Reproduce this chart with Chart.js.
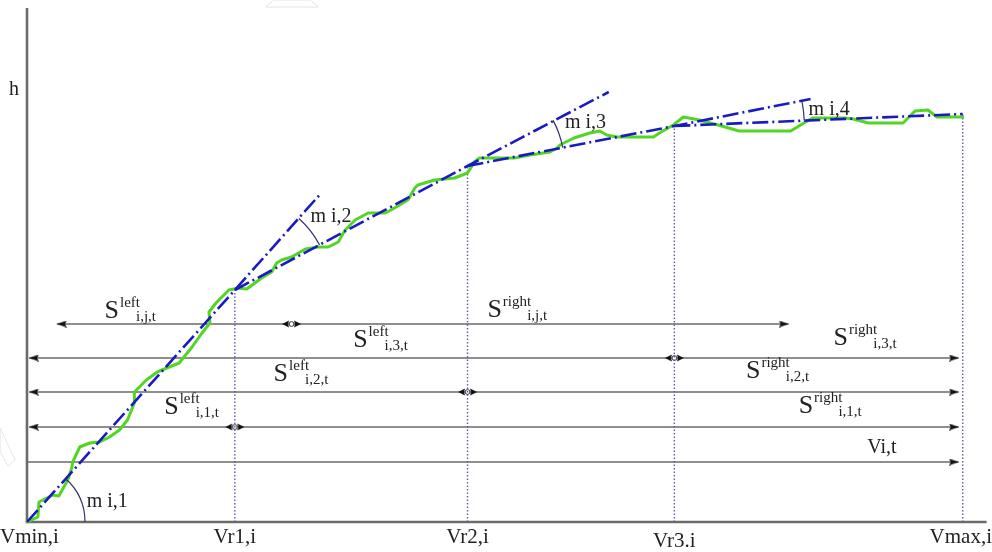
<!DOCTYPE html>
<html>
<head>
<meta charset="utf-8">
<script src="https://cdn.jsdelivr.net/npm/chart.js@4.4.1/dist/chart.umd.min.js"></script>
<style>
  html, body { margin: 0; padding: 0; background: #fff; }
  canvas { display: block; }
</style>
</head>
<body>
<canvas id="c" width="992" height="552"></canvas>
<script>
// Observed height trace h(V)
const traceV = [0, 11, 12, 26, 32, 41, 45, 46, 53, 63, 73, 83, 93, 101, 108, 108, 120, 131, 143, 153,
  166, 176, 184, 183, 190, 203, 213, 221, 236, 246, 251, 256, 266, 280, 293, 303, 313, 320, 330, 343,
  360, 366, 383, 390, 393, 410, 430, 443, 450, 455, 473, 490, 506, 526, 533, 536, 550, 566, 576, 583,
  593, 630, 636, 650, 660, 676, 695, 716, 768, 778, 790, 823, 831, 846, 881, 893, 906, 915, 941];
const traceH = [0, 5, 20, 27, 26, 42, 54, 60, 75, 79, 80, 85, 92, 102, 119, 130, 142, 150, 155, 159,
  175, 189, 199, 210, 219, 232, 234, 233, 244, 250, 259, 262, 265, 273, 275, 275, 280, 292, 302, 309,
  309, 312, 322, 334, 337, 342, 344, 349, 360, 364, 364, 364, 367, 370, 374, 377, 384, 389, 391, 387,
  385, 385, 389, 397, 405, 402, 397, 391, 391, 397, 404, 404, 403, 399, 399, 411, 412, 405, 405];

// Breakpoints of the piecewise linear fit
const knotV = [0, 209, 443, 651, 941];
const knotH = [0, 232, 356, 396, 408];
// Far end of each segment's tangent, drawn past the next breakpoint
const tangentV = [295, 585, 788];
const tangentH = [328, 430, 423];

const knotLabels = ['Vmin,i', 'Vr1,i', 'Vr2,i', 'Vr3.i', 'Vmax,i'];
const slopeLabels = ['m i,1', 'm i,2', 'm i,3', 'm i,4'];

// Distance rows: height, left tip, split point, right tip
const spanH = [198, 164, 130, 95, 60];
const spanStart = [30, 2, 2, 2, 0];
const spanSplit = [266, 651, 443, 209, null];
const spanEnd = [766, 937, 937, 937, 937];

const SERIF = '"Liberation Serif", "Times New Roman", serif';
const INK = '#222';

// --- marker images for the distance rows ---
function arrowHead(dir) {
  const L = 10, H = 7;
  const c = document.createElement('canvas');
  c.width = 2 * L; c.height = H;
  const g = c.getContext('2d');
  g.fillStyle = '#111';
  g.beginPath();
  if (dir > 0) { g.moveTo(0, 0); g.lineTo(L, H / 2); g.lineTo(0, H); g.lineTo(2, H / 2); }
  else { g.moveTo(2 * L, 0); g.lineTo(L, H / 2); g.lineTo(2 * L, H); g.lineTo(2 * L - 2, H / 2); }
  g.closePath(); g.fill();
  return c;
}
function splitMark() {
  const c = document.createElement('canvas');
  c.width = 21; c.height = 8;
  const g = c.getContext('2d');
  g.fillStyle = '#111';
  g.beginPath(); g.moveTo(1, 4); g.lineTo(8, 0.5); g.lineTo(7, 4); g.lineTo(8, 7.5); g.closePath(); g.fill();
  g.beginPath(); g.moveTo(20, 4); g.lineTo(13, 0.5); g.lineTo(14, 4); g.lineTo(13, 7.5); g.closePath(); g.fill();
  g.beginPath(); g.arc(10.5, 4, 2.4, 0, Math.PI * 2);
  g.fillStyle = '#fff'; g.fill(); g.strokeStyle = '#333'; g.lineWidth = 1; g.stroke();
  return c;
}
const headR = arrowHead(1), headL = arrowHead(-1), mark = splitMark();

const datasets = [];

// fitted segments (dash-dot blue), each from a breakpoint through the next one
for (let j = 0; j < 4; j++) {
  const pts = [{ x: knotV[j], y: knotH[j] }, { x: knotV[j + 1], y: knotH[j + 1] }];
  if (j < 3) pts.push({ x: tangentV[j], y: tangentH[j] });
  datasets.push({
    data: pts, showLine: true, borderColor: '#1a1ac4', borderWidth: 2.6,
    borderDash: [16, 4, 2, 4], pointRadius: 0, order: 1, clip: false
  });
}

// observed trace
datasets.push({
  data: traceV.map((v, i) => ({ x: v, y: traceH[i] })),
  showLine: true, borderColor: '#52d623', borderWidth: 3, pointRadius: 0,
  borderJoinStyle: 'round', borderCapStyle: 'round', order: 2, clip: false
});

// dotted drop lines at the breakpoints
for (let j = 1; j < knotV.length; j++) {
  datasets.push({
    data: [{ x: knotV[j], y: 0 }, { x: knotV[j], y: knotH[j] }],
    showLine: true, borderColor: '#5a5ab4', borderWidth: 1.4, borderDash: [1.5, 2],
    pointRadius: 0, order: 3
  });
}

// distance rows
for (let r = 0; r < spanH.length; r++) {
  const y = spanH[r];
  const common = { showLine: true, borderColor: '#6a6a6a', borderWidth: 1.4, order: 4, clip: false };
  if (spanSplit[r] !== null) {
    datasets.push(Object.assign({
      data: [{ x: spanSplit[r], y }, { x: spanStart[r], y }],
      pointStyle: [mark, headL], pointRadius: [4, 4]
    }, common));
    datasets.push(Object.assign({
      data: [{ x: spanSplit[r], y }, { x: spanEnd[r], y }],
      pointStyle: [mark, headR], pointRadius: [0, 4]
    }, common));
  } else {
    datasets.push(Object.assign({
      data: [{ x: spanStart[r], y }, { x: spanEnd[r], y }],
      pointStyle: [headR, headR], pointRadius: [0, 4]
    }, common));
  }
}

// axes
datasets.push({
  data: [{ x: 0, y: 514 }, { x: 0, y: 0 }, { x: 965, y: 0 }],
  showLine: true, borderColor: '#6b6b6b', borderWidth: 2.6, pointRadius: 0, order: 5, clip: false
});

// faint grey patches in the background
datasets.push({
  data: [{ x: 240, y: 515 }, { x: 248, y: 522 }, { x: 285, y: 522 }, { x: 293, y: 515 }, { x: 240, y: 515 }],
  showLine: true, fill: true, backgroundColor: '#e4e4e4', borderColor: '#e4e4e4', borderWidth: 1,
  pointRadius: 0, order: 9, clip: false
});
datasets.push({
  data: [{ x: -27, y: 94 }, { x: -12, y: 62 }, { x: -19, y: 56 }, { x: -27, y: 70 }, { x: -27, y: 94 }],
  showLine: true, fill: true, backgroundColor: '#e6e6e6', borderColor: '#e6e6e6', borderWidth: 1,
  pointRadius: 0, order: 9, clip: false
});

// text placed in value space
const spanNotes = [
  { x: 78,  y: 204, sup: 'left',  sub: 'i,j,t' },
  { x: 463, y: 205, sup: 'right', sub: 'i,j,t' },
  { x: 328, y: 175, sup: 'left',  sub: 'i,3,t' },
  { x: 811, y: 177, sup: 'right', sub: 'i,3,t' },
  { x: 248, y: 141, sup: 'left',  sub: 'i,2,t' },
  { x: 723, y: 144, sup: 'right', sub: 'i,2,t' },
  { x: 138, y: 108, sup: 'left',  sub: 'i,1,t' },
  { x: 776, y: 109, sup: 'right', sub: 'i,1,t' }
];
const plainNotes = [
  { x: 845, y: 69, text: 'Vi,t' },
  { x: -18, y: 427, text: 'h' }
];
const slopeNotePos = [{ x: 60, y: 15 }, { x: 285, y: 300 }, { x: 541, y: 394 }, { x: 786, y: 407 }];
const arcRadius = [58, 96, 97, 130];

const notes = {
  id: 'notes',
  afterDatasetsDraw(chart) {
    const { ctx, scales: { x: sx, y: sy } } = chart;
    const px = v => sx.getPixelForValue(v), py = v => sy.getPixelForValue(v);
    ctx.save();

    // angle arcs between consecutive segments
    ctx.strokeStyle = '#34346e'; ctx.lineWidth = 1.2;
    for (let j = 0; j < 4; j++) {
      const cx = px(knotV[j]), cy = py(knotH[j]);
      const nx = px(knotV[j + 1]), ny = py(knotH[j + 1]);
      const b = Math.atan2(ny - cy, nx - cx);
      let a = 0;
      if (j > 0) a = Math.atan2(cy - py(knotH[j - 1]), cx - px(knotV[j - 1]));
      ctx.beginPath();
      ctx.arc(cx, cy, arcRadius[j], Math.min(a, b), Math.max(a, b), false);
      ctx.stroke();
    }

    ctx.fillStyle = INK;
    ctx.textBaseline = 'alphabetic';
    ctx.textAlign = 'left';

    ctx.font = '20px ' + SERIF;
    slopeLabels.forEach((t, j) => ctx.fillText(t, px(slopeNotePos[j].x), py(slopeNotePos[j].y)));
    plainNotes.forEach(n => ctx.fillText(n.text, px(n.x), py(n.y)));

    // S labels with super/subscripts
    spanNotes.forEach(n => {
      const x0 = px(n.x), yb = py(n.y);
      ctx.font = '26px ' + SERIF;
      ctx.fillText('S', x0, yb);
      const sw = ctx.measureText('S').width;
      ctx.font = '15px ' + SERIF;
      const supX = x0 + sw + 1;
      ctx.fillText(n.sup, supX, yb - 11);
      const supW = ctx.measureText(n.sup).width;
      ctx.fillText(n.sub, supX + supW - 4, yb + 3);
    });

    // breakpoint labels under the axis
    ctx.font = '21px ' + SERIF;
    const base = py(0) + 21;
    knotLabels.forEach((t, j) => {
      if (j === 0) { ctx.textAlign = 'left'; ctx.fillText(t, 0, base); }
      else if (j === knotLabels.length - 1) { ctx.textAlign = 'right'; ctx.fillText(t, chart.width, base); }
      else { ctx.textAlign = 'center'; ctx.fillText(t, px(knotV[j]), base + (j === 3 ? 4 : 0)); }
    });
    ctx.restore();
  }
};

new Chart(document.getElementById('c'), {
  type: 'scatter',
  data: { datasets },
  options: {
    responsive: false,
    animation: false,
    events: [],
    layout: { padding: { left: 27, top: 8, right: 0, bottom: 30 } },
    scales: {
      x: { type: 'linear', min: 0, max: 965, display: false },
      y: { type: 'linear', min: 0, max: 514, display: false }
    },
    plugins: { legend: { display: false }, tooltip: { enabled: false } }
  },
  plugins: [notes]
});
</script>
</body>
</html>
